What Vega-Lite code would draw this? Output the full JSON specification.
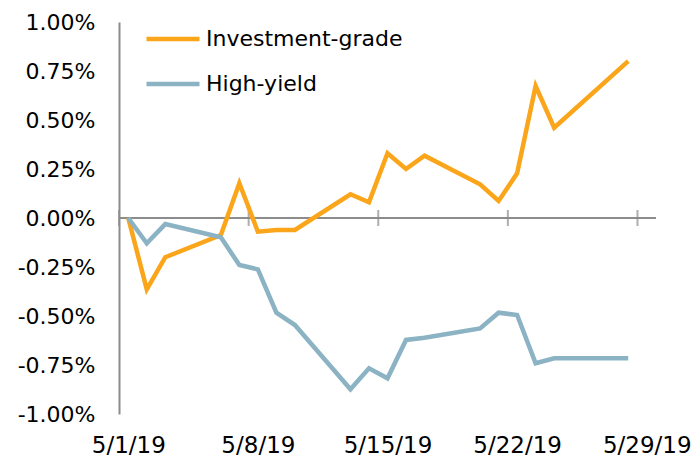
{
  "$schema": "https://vega.github.io/schema/vega-lite/v6.json",
  "width": 537,
  "height": 392,
  "autosize": "none",
  "padding": {"left": 119, "top": 22, "right": 40, "bottom": 44},
  "config": {"view": {"stroke": null}, "font": "DejaVu Sans", "background": "white"},
  "datasets": {
    "series": [
      {"date": "2019-05-01", "series": "Investment-grade", "value": 0},
      {"date": "2019-05-02", "series": "Investment-grade", "value": -0.00364},
      {"date": "2019-05-03", "series": "Investment-grade", "value": -0.0020},
      {"date": "2019-05-06", "series": "Investment-grade", "value": -0.00087},
      {"date": "2019-05-07", "series": "Investment-grade", "value": 0.00177},
      {"date": "2019-05-08", "series": "Investment-grade", "value": -0.0007},
      {"date": "2019-05-09", "series": "Investment-grade", "value": -0.00061},
      {"date": "2019-05-10", "series": "Investment-grade", "value": -0.00061},
      {"date": "2019-05-13", "series": "Investment-grade", "value": 0.00121},
      {"date": "2019-05-14", "series": "Investment-grade", "value": 0.0008},
      {"date": "2019-05-15", "series": "Investment-grade", "value": 0.0033},
      {"date": "2019-05-16", "series": "Investment-grade", "value": 0.0025},
      {"date": "2019-05-17", "series": "Investment-grade", "value": 0.00318},
      {"date": "2019-05-20", "series": "Investment-grade", "value": 0.00172},
      {"date": "2019-05-21", "series": "Investment-grade", "value": 0.00087},
      {"date": "2019-05-22", "series": "Investment-grade", "value": 0.00228},
      {"date": "2019-05-23", "series": "Investment-grade", "value": 0.00673},
      {"date": "2019-05-24", "series": "Investment-grade", "value": 0.00461},
      {"date": "2019-05-28", "series": "Investment-grade", "value": 0.0080},
      {"date": "2019-05-01", "series": "High-yield", "value": 0},
      {"date": "2019-05-02", "series": "High-yield", "value": -0.00129},
      {"date": "2019-05-03", "series": "High-yield", "value": -0.00031},
      {"date": "2019-05-06", "series": "High-yield", "value": -0.00098},
      {"date": "2019-05-07", "series": "High-yield", "value": -0.0024},
      {"date": "2019-05-08", "series": "High-yield", "value": -0.00262},
      {"date": "2019-05-09", "series": "High-yield", "value": -0.00483},
      {"date": "2019-05-10", "series": "High-yield", "value": -0.00546},
      {"date": "2019-05-13", "series": "High-yield", "value": -0.00874},
      {"date": "2019-05-14", "series": "High-yield", "value": -0.00767},
      {"date": "2019-05-15", "series": "High-yield", "value": -0.00818},
      {"date": "2019-05-16", "series": "High-yield", "value": -0.00622},
      {"date": "2019-05-17", "series": "High-yield", "value": -0.00611},
      {"date": "2019-05-20", "series": "High-yield", "value": -0.00563},
      {"date": "2019-05-21", "series": "High-yield", "value": -0.00483},
      {"date": "2019-05-22", "series": "High-yield", "value": -0.00495},
      {"date": "2019-05-23", "series": "High-yield", "value": -0.00741},
      {"date": "2019-05-24", "series": "High-yield", "value": -0.00716},
      {"date": "2019-05-28", "series": "High-yield", "value": -0.00716}
    ],
    "ticks": [
      {"date": "2019-05-01"},
      {"date": "2019-05-08"},
      {"date": "2019-05-15"},
      {"date": "2019-05-22"},
      {"date": "2019-05-29"}
    ]
  },
  "layer": [
    {
      "data": {"values": [{}]},
      "mark": {"type": "rule", "color": "#8c8c8c", "strokeWidth": 2},
      "encoding": {"y": {"datum": 0, "type": "quantitative", "title": null}}
    },
    {
      "data": {"name": "ticks"},
      "mark": {"type": "tick", "orient": "vertical", "color": "#8c8c8c", "thickness": 2, "size": 16},
      "encoding": {
        "x": {"field": "date", "type": "temporal", "timeUnit": "utcyearmonthdate", "bandPosition": 0, "title": null},
        "y": {"datum": 0, "type": "quantitative", "title": null}
      }
    },
    {
      "data": {"name": "series"},
      "mark": {"type": "line", "strokeWidth": 4.5, "strokeJoin": "miter"},
      "encoding": {
        "x": {
          "field": "date",
          "type": "temporal",
          "timeUnit": "utcyearmonthdate",
          "bandPosition": 0.5,
          "title": null,
          "scale": {"type": "utc", "domain": [{"year": 2019, "month": 5, "date": 1, "utc": true}, {"year": 2019, "month": 5, "date": 30, "utc": true}]},
          "axis": {
            "orient": "bottom",
            "domain": false,
            "ticks": false,
            "grid": false,
            "values": [
              {"year": 2019, "month": 5, "date": 1, "hours": 12, "utc": true},
              {"year": 2019, "month": 5, "date": 8, "hours": 12, "utc": true},
              {"year": 2019, "month": 5, "date": 15, "hours": 12, "utc": true},
              {"year": 2019, "month": 5, "date": 22, "hours": 12, "utc": true},
              {"year": 2019, "month": 5, "date": 29, "hours": 12, "utc": true}
            ],
            "labelExpr": "utcFormat(datum.value, '%-m/%-d/%y')",
            "labelFont": "DejaVu Sans",
            "labelFontSize": 23,
            "labelColor": "#000000",
            "labelPadding": 20,
            "labelFlush": false,
            "labelOverlap": false
          }
        },
        "y": {
          "field": "value",
          "type": "quantitative",
          "title": null,
          "scale": {"domain": [-0.01, 0.01], "nice": false, "zero": false},
          "axis": {
            "values": [-0.01, -0.0075, -0.005, -0.0025, 0, 0.0025, 0.005, 0.0075, 0.01],
            "labelExpr": "replace(format(datum.value, '.2%'), '\u2212', '-')",
            "domain": true,
            "domainColor": "#8c8c8c",
            "domainWidth": 2,
            "ticks": false,
            "grid": false,
            "labelFont": "DejaVu Sans",
            "labelFontSize": 22,
            "labelColor": "#000000",
            "labelPadding": 24
          }
        },
        "color": {
          "field": "series",
          "type": "nominal",
          "scale": {"domain": ["Investment-grade", "High-yield"], "range": ["#FBA51A", "#8BB3C4"]},
          "legend": {
            "orient": "none",
            "legendX": 25,
            "legendY": -12,
            "title": null,
            "symbolType": "stroke",
            "symbolStrokeWidth": 4.5,
            "symbolSize": 2809,
            "labelFont": "DejaVu Sans",
            "labelFontSize": 22,
            "labelColor": "#000000",
            "labelOffset": 4,
            "labelLimit": 400,
            "rowPadding": 5
          }
        }
      }
    }
  ]
}
